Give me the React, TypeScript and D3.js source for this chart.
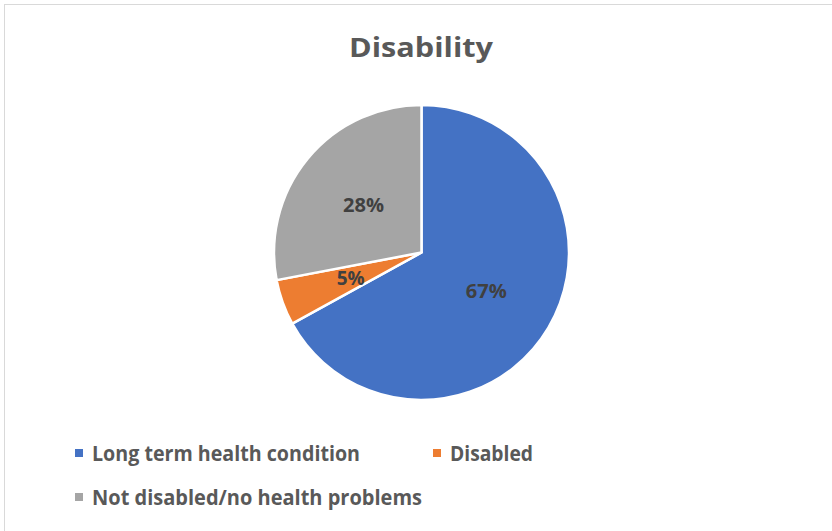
import React from "react";
import * as d3 from "d3";

const categories = ["Long term health condition", "Disabled", "Not disabled/no health problems"];
const values = [67, 5, 28];
const labels = ["67%", "5%", "28%"];
const colors = ["#4472C4", "#ED7D31", "#A5A5A5"];
const title = "Disability";

const W = 832;
const H = 531;
const FONT = "'Open Sans', 'Noto Sans', sans-serif";

export default function App() {
  const cx = 421.5;
  const cy = 252.5;
  const r = 147.5;
  const pie = d3.pie<number>().sort(null).value((d) => d)(values);
  const arc = d3.arc<d3.PieArcDatum<number>>().innerRadius(0).outerRadius(r);
  const labelWidths = [41, 28, 41];
  const legendPos: [number, number][] = [
    [75, 461],
    [433, 461],
    [75, 505],
  ];
  const legendWidths = [268, 83, 330];
  return (
    <svg
      width={W}
      height={H}
      style={{ position: "absolute", left: 0, top: 0, background: "#fff" }}
    >
      <rect x={4.5} y={4.5} width={W + 10} height={H + 10} fill="#fff" stroke="#D9D9D9" strokeWidth={1} />
      <text
        x={349}
        y={56.7}
        fontFamily={FONT}
        fontWeight="bold"
        fontSize={26.5}
        fill="#595959"
        textLength={144}
        lengthAdjust="spacingAndGlyphs"
      >
        {title}
      </text>
      <g transform={`translate(${cx},${cy})`}>
        {pie.map((p, i) => (
          <path key={i} d={arc(p) || ""} fill={colors[i]} stroke="#fff" strokeWidth={2.5} strokeLinejoin="round" />
        ))}
        {pie.map((p, i) => {
          const a = (p.startAngle + p.endAngle) / 2;
          const rr = r * 0.51;
          const x = Math.sin(a) * rr;
          const y = -Math.cos(a) * rr;
          return (
            <text
              key={i}
              x={x - labelWidths[i] / 2}
              y={y}
              dy="0.357em"
              fontFamily={FONT}
              fontWeight="bold"
              fontSize={19.5}
              fill="#404040"
              textLength={labelWidths[i]}
              lengthAdjust="spacingAndGlyphs"
            >
              {labels[i]}
            </text>
          );
        })}
      </g>
      {categories.map((c, i) => (
        <g key={c} transform={`translate(${legendPos[i][0]},${legendPos[i][1]})`}>
          <rect x={0} y={-12} width={8} height={8} fill={colors[i]} />
          <text
            x={17}
            y={0}
            fontFamily={FONT}
            fontWeight="bold"
            fontSize={21}
            fill="#595959"
            textLength={legendWidths[i]}
            lengthAdjust="spacingAndGlyphs"
          >
            {c}
          </text>
        </g>
      ))}
    </svg>
  );
}
